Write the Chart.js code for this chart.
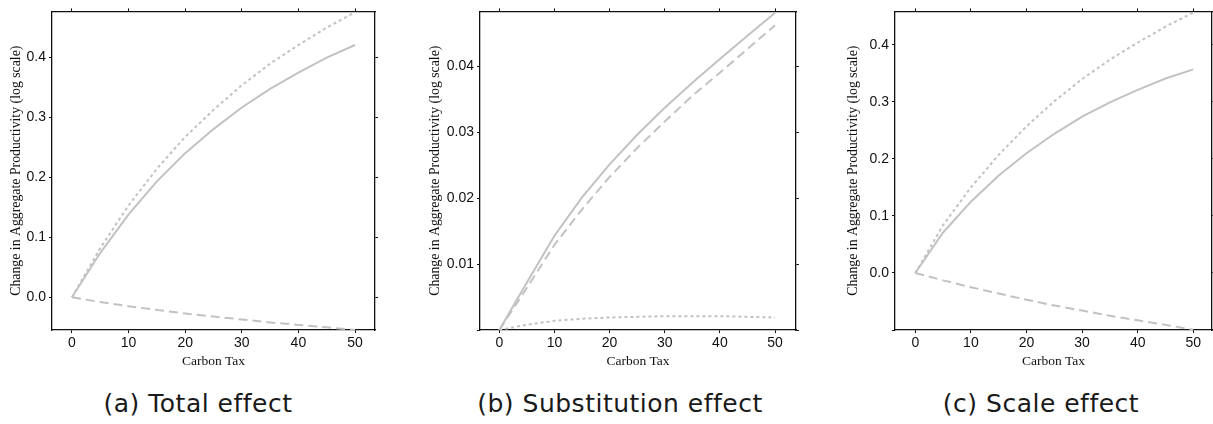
<!DOCTYPE html>
<html>
<head>
<meta charset="utf-8">
<script src="https://cdn.jsdelivr.net/npm/chart.js@4/dist/chart.umd.min.js"></script>
<style>
  html, body { margin: 0; padding: 0; background: #fff; overflow: hidden; }
  body { width: 1213px; height: 424px; position: relative; }
  canvas { position: absolute; top: 0; }
  .caption {
    position: absolute; top: 389px; width: 320px; text-align: center;
    font-family: "DejaVu Sans", sans-serif; font-size: 25px; color: #1a1a1a;
    letter-spacing: 0.5px; line-height: normal; white-space: nowrap;
  }
</style>
</head>
<body>
<canvas id="totalChart" width="380" height="370" style="left:0px"></canvas>
<canvas id="substChart" width="381" height="370" style="left:420px"></canvas>
<canvas id="scaleChart" width="380" height="370" style="left:837px"></canvas>
<div class="caption" style="left:38px">(a) Total effect</div>
<div class="caption" style="left:460px">(b) Substitution effect</div>
<div class="caption" style="left:881px">(c) Scale effect</div>

<script>
// carbon tax levels on the x axis
const carbonTax = [0, 5, 10, 15, 20, 25, 30, 35, 40, 45, 50];

// (a) total effect
const totalSolid  = [0, 0.074, 0.138, 0.193, 0.240, 0.280, 0.316, 0.347, 0.374, 0.399, 0.420];
const totalDotted = [0, 0.082, 0.153, 0.214, 0.267, 0.312, 0.353, 0.389, 0.420, 0.449, 0.4745];
const totalDashed = [0, -0.008, -0.015, -0.021, -0.027, -0.032, -0.037, -0.042, -0.046, -0.050, -0.0545];

// (b) substitution effect
const substSolid  = [0, 0.0072, 0.0143, 0.0201, 0.0251, 0.0296, 0.0337, 0.0375, 0.0411, 0.0446, 0.0481];
const substDashed = [0, 0.0064, 0.0129, 0.0183, 0.0232, 0.0276, 0.0316, 0.0355, 0.0390, 0.0426, 0.0462];
const substDotted = [0, 0.0008, 0.0014, 0.0017, 0.0019, 0.0020, 0.0021, 0.0021, 0.0021, 0.0020, 0.0019];

// (c) scale effect
const scaleSolid  = [0, 0.071, 0.125, 0.171, 0.210, 0.244, 0.274, 0.299, 0.321, 0.341, 0.357];
const scaleDotted = [0, 0.084, 0.150, 0.207, 0.257, 0.301, 0.340, 0.374, 0.404, 0.432, 0.4565];
const scaleDashed = [0, -0.013, -0.025, -0.036, -0.047, -0.057, -0.066, -0.075, -0.083, -0.091, -0.0995];

const xTicks = [0, 10, 20, 30, 40, 50];

const LINE_GREY = '#c2c2c2';
const AXIS_BLACK = '#111';

function series(values, dash) {
  return {
    data: carbonTax.map((x, i) => ({ x: x, y: values[i] })),
    borderColor: LINE_GREY,
    borderWidth: 2,
    borderDash: dash,
    pointRadius: 0,
    tension: 0,
    fill: false
  };
}

// top / right frame with tick marks but no labels
function edgeScale(position, min, max, step, size) {
  return {
    type: 'linear',
    position: position,
    min: min, max: max,
    ticks: { display: false, stepSize: step, includeBounds: false },
    grid: { drawOnChartArea: false, drawTicks: true, tickLength: 3, color: AXIS_BLACK, lineWidth: 1 },
    border: { display: true, color: AXIS_BLACK, width: 1.3 },
    afterFit: s => { if (position === 'top') s.height = size; else s.width = size; }
  };
}

function makePanel(id, lines, xr, yr, yStep, yDigits, hideBelow, yWidth, titlePad) {
  const ctx = document.getElementById(id).getContext('2d');
  return new Chart(ctx, {
    type: 'line',
    data: { datasets: lines },
    options: {
      responsive: false,
      animation: false,
      devicePixelRatio: 1,
      layout: { padding: 0 },
      plugins: { legend: { display: false }, tooltip: { enabled: false } },
      scales: {
        x: {
          type: 'linear',
          position: 'bottom',
          min: xr[0], max: xr[1],
          afterBuildTicks: s => { s.ticks = xTicks.map(v => ({ value: v })); },
          ticks: {
            color: AXIS_BLACK, padding: 2, maxRotation: 0,
            font: { family: '"Liberation Sans", Arial, sans-serif', size: 14 }
          },
          grid: { drawOnChartArea: false, drawTicks: true, tickLength: 3, color: AXIS_BLACK },
          border: { display: true, color: AXIS_BLACK, width: 1.3 },
          title: {
            display: true, text: 'Carbon Tax', color: AXIS_BLACK, padding: { top: 1, bottom: 0 },
            font: { family: '"Liberation Serif", "Times New Roman", serif', size: 13.5 }
          },
          afterFit: s => { s.height = 40; }
        },
        y: {
          type: 'linear',
          position: 'left',
          min: yr[0], max: yr[1],
          ticks: {
            stepSize: yStep, includeBounds: false, color: AXIS_BLACK, padding: 3,
            font: { family: '"Liberation Sans", Arial, sans-serif', size: 14 },
            callback: v => (v < hideBelow ? '' : Number(v).toFixed(yDigits))
          },
          grid: { drawOnChartArea: false, drawTicks: true, tickLength: 3, color: AXIS_BLACK },
          border: { display: true, color: AXIS_BLACK, width: 1.3 },
          title: {
            display: true, text: 'Change in Aggregate Productivity (log scale)', color: AXIS_BLACK,
            padding: { top: titlePad, bottom: 0 },
            font: { family: '"Liberation Serif", "Times New Roman", serif', size: 13.8 }
          },
          afterFit: s => { s.width = yWidth; }
        },
        x2: edgeScale('top', xr[0], xr[1], 10, 9),
        y2: edgeScale('right', yr[0], yr[1], yStep, 5)
      }
    }
  });
}

makePanel('totalChart',
  [series(totalSolid, []), series(totalDotted, [3, 3]), series(totalDashed, [9, 5])],
  [-3.53, 53.53], [-0.0545, 0.476], 0.1, 1, -0.001, 52, 8.5);

makePanel('substChart',
  [series(substSolid, []), series(substDashed, [9, 5]), series(substDotted, [3, 3])],
  [-3.5, 53.8], [0, 0.0483], 0.01, 2, 0.005, 60, 6.7);

makePanel('scaleChart',
  [series(scaleSolid, []), series(scaleDotted, [3, 3]), series(scaleDashed, [9, 5])],
  [-3.65, 53.36], [-0.1, 0.4586], 0.1, 1, -0.001, 58, 7.7);
</script>
</body>
</html>
